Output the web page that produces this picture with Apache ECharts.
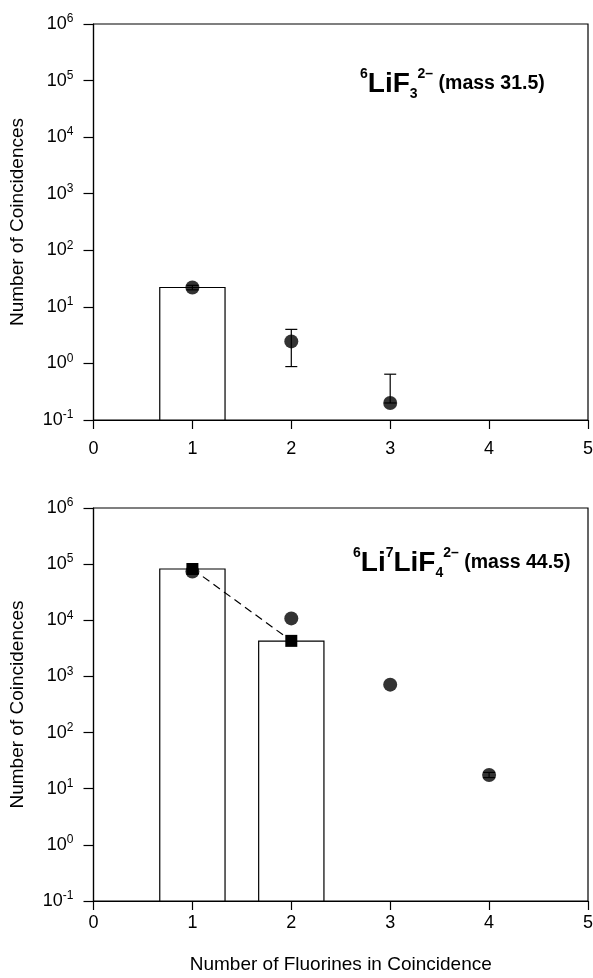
<!DOCTYPE html>
<html><head><meta charset="utf-8">
<script src="https://cdn.jsdelivr.net/npm/echarts@6/dist/echarts.min.js"></script>
<style>html,body{margin:0;padding:0;background:#fff}#c{width:593px;height:978px}</style>
</head><body><div id="c"></div>
<script>
// ---- data ----
const xTicks = [0, 1, 2, 3, 4, 5];
// top panel: 6LiF3 2- (mass 31.5)
const topBars = [[1, 22]];
const topCircles = [[1, 22], [2, 2.45], [3, 0.2]];
const topErrors = [[1, 20, 24], [2, 0.88, 4.0], [3, 0.2, 0.645]];
// bottom panel: 6Li7LiF4 2- (mass 44.5)
const botBars = [[1, 82000], [2, 4250]];
const botCircles = [[1, 73600], [2, 10800], [3, 714], [4, 17.6]];
const botSquares = [[1, 82000], [2, 4300]];
const botErrors = [[4, 15.8, 19.5]];
const yMin = 0.1, yMax = 1e6;

const FF = '"Liberation Sans", Arial, Helvetica, sans-serif';
const BAR_HALF = 0.33;

function barRender(params, api) {
  const x = api.value(0), v = api.value(1);
  const p1 = api.coord([x - BAR_HALF, v]);
  const p2 = api.coord([x + BAR_HALF, yMin]);
  return {
    type: 'rect',
    shape: { x: p1[0], y: p1[1], width: p2[0] - p1[0], height: p2[1] - p1[1] },
    style: { fill: '#fff', stroke: '#000', lineWidth: 1.2 }
  };
}
function errRender(params, api) {
  const x = api.value(0);
  const lo = api.coord([x, api.value(1)]);
  const hi = api.coord([x, api.value(2)]);
  const w = 6;
  return {
    type: 'group',
    children: [
      { type: 'line', shape: { x1: hi[0], y1: hi[1], x2: lo[0], y2: lo[1] }, style: { stroke: '#000', lineWidth: 1.2 } },
      { type: 'line', shape: { x1: hi[0] - w, y1: hi[1], x2: hi[0] + w, y2: hi[1] }, style: { stroke: '#000', lineWidth: 1.2 } },
      { type: 'line', shape: { x1: lo[0] - w, y1: lo[1], x2: lo[0] + w, y2: lo[1] }, style: { stroke: '#000', lineWidth: 1.2 } }
    ]
  };
}

function xAxis(idx, withName, margin) {
  return {
    type: 'value', gridIndex: idx, min: 0, max: 5, interval: 1,
    axisLine: { show: true, onZero: false, lineStyle: { color: '#000', width: 1.2 } },
    axisTick: { show: true, length: 9, lineStyle: { color: '#000', width: 1.2 } },
    splitLine: { show: false },
    axisLabel: { color: '#000', fontSize: 18, fontFamily: FF, margin: margin,
      formatter: v => String(xTicks[Math.round(v)]) },
    name: withName ? 'Number of Fluorines in Coincidence' : '',
    nameLocation: 'middle', nameGap: 54,
    nameTextStyle: { color: '#000', fontSize: 19, fontFamily: FF }
  };
}
function yAxis(idx) {
  return {
    type: 'log', logBase: 10, gridIndex: idx, min: yMin, max: yMax, splitNumber: 7,
    axisLine: { show: true, lineStyle: { color: '#000', width: 1.2 } },
    axisTick: { show: true, length: 10, lineStyle: { color: '#000', width: 1.2 } },
    minorTick: { show: false },
    splitLine: { show: false },
    axisLabel: {
      color: '#000', fontFamily: FF, margin: 20,
      formatter: v => '{b|10}{s|' + Math.round(Math.log10(v)) + '}',
      rich: {
        b: { fontSize: 18, lineHeight: 22, fontFamily: FF, color: '#000' },
        s: { fontSize: 12, lineHeight: 10, verticalAlign: 'top', fontFamily: FF, color: '#000' }
      }
    },
    name: 'Number of Coincidences', nameLocation: 'middle', nameGap: 66,
    nameTextStyle: { color: '#000', fontSize: 19, fontFamily: FF }
  };
}

const titleRich = {
  s: { fontSize: 14, fontWeight: 'bold', lineHeight: 8, verticalAlign: 'top', fontFamily: FF, color: '#000' },
  b: { fontSize: 28, fontWeight: 'bold', lineHeight: 34, fontFamily: FF, color: '#000' },
  d: { fontSize: 14, fontWeight: 'bold', lineHeight: 10, verticalAlign: 'bottom', fontFamily: FF, color: '#000' },
  m: { fontSize: 19.5, fontWeight: 'bold', lineHeight: 34, fontFamily: FF, color: '#000' }
};

const option = {
  backgroundColor: '#fff',
  animation: false,
  title: [
    { text: '{s|6}{b|LiF}{d|3}{s|2\u2013}{m| (mass 31.5)}', left: 355, top: 62,
      textStyle: { rich: titleRich } },
    { text: '{s|6}{b|Li}{s|7}{b|LiF}{d|4}{s|2\u2013}{m| (mass 44.5)}', left: 348, top: 541,
      textStyle: { rich: titleRich } }
  ],
  grid: [
    { left: 93.5, top: 24, right: 5, height: 396, show: true, borderColor: '#000', borderWidth: 1.2,
      backgroundColor: 'transparent', containLabel: false, outerBoundsMode: 'none' },
    { left: 93.5, top: 508, right: 5, height: 393, show: true, borderColor: '#000', borderWidth: 1.2,
      backgroundColor: 'transparent', containLabel: false, outerBoundsMode: 'none' }
  ],
  xAxis: [xAxis(0, false, 20), xAxis(1, true, 13)],
  yAxis: [yAxis(0), yAxis(1)],
  series: [
    { type: 'custom', xAxisIndex: 0, yAxisIndex: 0, renderItem: barRender, data: topBars, z: 2 },
    { type: 'custom', xAxisIndex: 0, yAxisIndex: 0, renderItem: errRender, data: topErrors, z: 3 },
    { type: 'scatter', xAxisIndex: 0, yAxisIndex: 0, data: topCircles, symbol: 'circle', symbolSize: 14,
      itemStyle: { color: '#000' }, z: 5 },
    { type: 'custom', xAxisIndex: 1, yAxisIndex: 1, renderItem: barRender, data: botBars, z: 2 },
    { type: 'line', xAxisIndex: 1, yAxisIndex: 1, data: botSquares, symbol: 'rect', symbolSize: 12, showSymbol: true,
      lineStyle: { color: '#000', width: 1.2, type: [8, 5] }, itemStyle: { color: '#000' }, z: 4 },
    { type: 'custom', xAxisIndex: 1, yAxisIndex: 1, renderItem: errRender, data: botErrors, z: 3 },
    { type: 'scatter', xAxisIndex: 1, yAxisIndex: 1, data: botCircles, symbol: 'circle', symbolSize: 14,
      itemStyle: { color: '#000' }, z: 5 }
  ]
};
const chart = echarts.init(document.getElementById('c'), null, { renderer: 'canvas' });
chart.setOption(option);
</script></body></html>
